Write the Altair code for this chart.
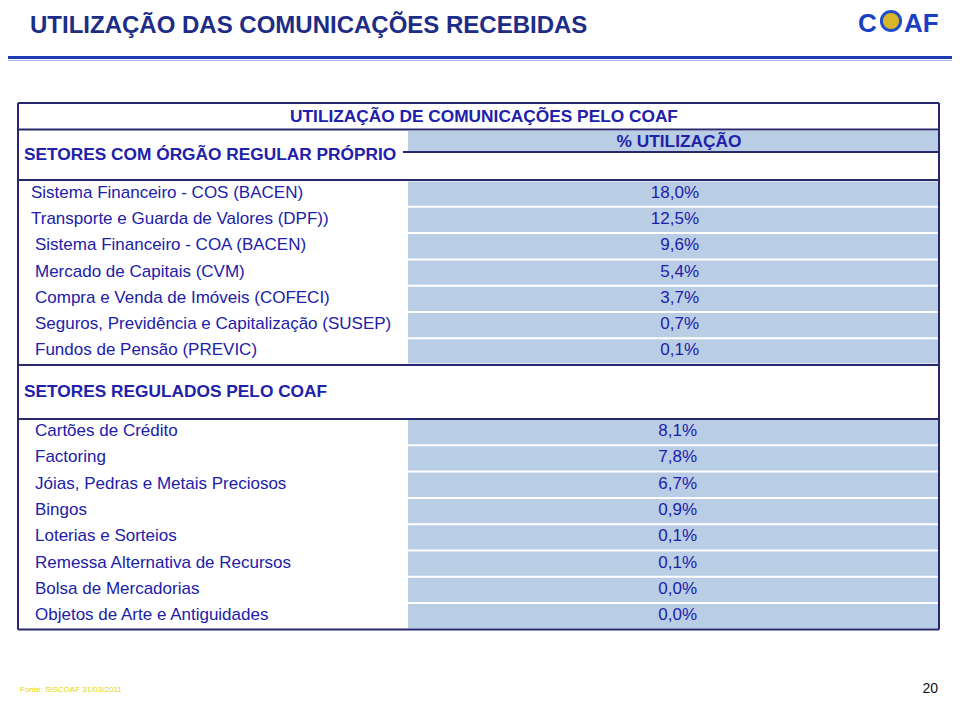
import altair as alt
import pandas as pd

# ---------------- data ----------------
title = "UTILIZAÇÃO DAS COMUNICAÇÕES RECEBIDAS"
table_title = "UTILIZAÇÃO DE COMUNICAÇÕES PELO COAF"
value_header = "% UTILIZAÇÃO"
section1_title = "SETORES COM ÓRGÃO REGULAR PRÓPRIO"
section2_title = "SETORES REGULADOS PELO COAF"

sec1_labels = [
    "Sistema Financeiro - COS (BACEN)",
    "Transporte e Guarda de Valores (DPF))",
    "Sistema Financeiro - COA (BACEN)",
    "Mercado de Capitais (CVM)",
    "Compra e Venda de Imóveis (COFECI)",
    "Seguros, Previdência e Capitalização (SUSEP)",
    "Fundos de Pensão (PREVIC)",
]
sec1_values = [18.0, 12.5, 9.6, 5.4, 3.7, 0.7, 0.1]

sec2_labels = [
    "Cartões de Crédito",
    "Factoring",
    "Jóias, Pedras e Metais Preciosos",
    "Bingos",
    "Loterias e Sorteios",
    "Remessa Alternativa de Recursos",
    "Bolsa de Mercadorias",
    "Objetos de Arte e Antiguidades",
]
sec2_values = [8.1, 7.8, 6.7, 0.9, 0.1, 0.1, 0.0, 0.0]

source_note = "Fonte: SISCOAF 31/03/2011"
page_number = "20"

# ---------------- layout (page pixel coordinates) ----------------
W, H = 944, 686
X0, Y0 = 8, 8
FONT = "Liberation Sans, Arial, sans-serif"
NAVY = "#1d2c86"
BLUE = "#2020aa"
CELL = "#b9cde5"
LINE = "#28286e"
FS = 17

L, R = 18, 939          # table left/right
CX0, CX1 = 408, 938     # value column
PITCH = 26.3
S1_TOP, S2_TOP = 180.5, 419

def fmt(v):
    return f"{v:.1f}".replace(".", ",") + "%"

xs = alt.Scale(domain=[X0, X0 + W])
ys = alt.Scale(domain=[Y0 + H, Y0])

def X(f="x"):
    return alt.X(f"{f}:Q", scale=xs, axis=None)

def Y(f="y"):
    return alt.Y(f"{f}:Q", scale=ys, axis=None)

# cells
cells = []
for i in range(len(sec1_labels)):
    t = S1_TOP + i * PITCH
    cells.append(dict(x=CX0, x2=CX1, y=t + 1, y2=t + PITCH - 1))
for i in range(len(sec2_labels)):
    t = S2_TOP + i * PITCH
    cells.append(dict(x=CX0, x2=CX1, y=t + 1, y2=t + PITCH - 1))
cells.append(dict(x=CX0, x2=CX1, y=131, y2=151))
cells_df = pd.DataFrame(cells)

rect_layer = alt.Chart(cells_df).mark_rect(color=CELL).encode(
    x=X(), x2="x2:Q", y=Y(), y2="y2:Q")

# table lines
lines = [
    dict(x=L, x2=R, y=103, y2=103),
    dict(x=L, x2=R, y=129.5, y2=129.5),
    dict(x=403, x2=R, y=152, y2=152),
    dict(x=L, x2=R, y=180, y2=180),
    dict(x=L, x2=R, y=365, y2=365),
    dict(x=L, x2=R, y=419, y2=419),
    dict(x=L, x2=R, y=629.5, y2=629.5),
    dict(x=L, x2=L, y=103, y2=629.5),
    dict(x=R, x2=R, y=103, y2=629.5),
]
lines_layer = alt.Chart(pd.DataFrame(lines)).mark_rule(
    color=LINE, strokeWidth=2).encode(x=X(), x2="x2:Q", y=Y(), y2="y2:Q")

# title rule
trule = pd.DataFrame([dict(y=57.5, y2=57.5)])
trule_layer = alt.Chart(trule).mark_rule(color="#1e3cb8", strokeWidth=3).encode(
    x=alt.value(0), x2=alt.value(W), y=Y(), y2="y2:Q")
trule2 = pd.DataFrame([dict(y=60.5, y2=60.5)])
trule2_layer = alt.Chart(trule2).mark_rule(color="#a8b8e8", strokeWidth=1).encode(
    x=alt.value(0), x2=alt.value(W), y=Y(), y2="y2:Q")

# row labels and values
indents = [31, 31, 35, 35, 35, 35, 35]
labs, vals = [], []
for i, (lab, v) in enumerate(zip(sec1_labels, sec1_values)):
    yc = S1_TOP + (i + 0.5) * PITCH - 1
    labs.append(dict(x=indents[i], y=yc, t=lab))
    vals.append(dict(x=699, y=yc, t=fmt(v)))
for i, (lab, v) in enumerate(zip(sec2_labels, sec2_values)):
    yc = S2_TOP + (i + 0.5) * PITCH - 1
    labs.append(dict(x=35, y=yc, t=lab))
    vals.append(dict(x=697, y=yc, t=fmt(v)))

lab_layer = alt.Chart(pd.DataFrame(labs)).mark_text(
    align="left", baseline="middle", font=FONT, fontSize=FS, color=BLUE
).encode(x=X(), y=Y(), text="t:N")
val_layer = alt.Chart(pd.DataFrame(vals)).mark_text(
    align="right", baseline="middle", font=FONT, fontSize=FS, color=BLUE
).encode(x=X(), y=Y(), text="t:N")

# headers
heads = pd.DataFrame([
    dict(x=484, y=116.5, t=table_title),
    dict(x=679, y=141.5, t=value_header),
])
heads_layer = alt.Chart(heads).mark_text(
    align="center", baseline="middle", font=FONT, fontSize=17.3, fontWeight="bold", color=BLUE
).encode(x=X(), y=Y(), text="t:N")

secs = pd.DataFrame([
    dict(x=24, y=154.5, t=section1_title),
    dict(x=24, y=391.5, t=section2_title),
])
secs_layer = alt.Chart(secs).mark_text(
    align="left", baseline="middle", font=FONT, fontSize=17.3, fontWeight="bold", color=BLUE
).encode(x=X(), y=Y(), text="t:N")

# page title
title_layer = alt.Chart(pd.DataFrame([dict(x=30, y=26, t=title)])).mark_text(
    align="left", baseline="middle", font=FONT, fontSize=24, fontWeight="bold", color=NAVY
).encode(x=X(), y=Y(), text="t:N")

# logo
logo_txt = pd.DataFrame([dict(x=858, y=23.5, t="C"), dict(x=904, y=23.5, t="AF")])
logo_layer = alt.Chart(logo_txt).mark_text(
    align="left", baseline="middle", font=FONT, fontSize=26, fontWeight="bold", color="#1b3fc4"
).encode(x=X(), y=Y(), text="t:N")
globe = pd.DataFrame([dict(x=891, y=21)])
globe_layer = alt.Chart(globe).mark_point(
    filled=True, size=370, color="#d9b52a", stroke="#2050c8", strokeWidth=3, opacity=1
).encode(x=X(), y=Y())

# footer
foot1 = alt.Chart(pd.DataFrame([dict(x=20, y=690, t=source_note)])).mark_text(
    align="left", baseline="middle", font=FONT, fontSize=8, color="#e6d600"
).encode(x=X(), y=Y(), text="t:N")
foot2 = alt.Chart(pd.DataFrame([dict(x=938, y=688.5, t=page_number)])).mark_text(
    align="right", baseline="middle", font=FONT, fontSize=14, color="#111111"
).encode(x=X(), y=Y(), text="t:N")

chart = alt.layer(
    trule_layer, trule2_layer, rect_layer, lines_layer, lab_layer, val_layer,
    heads_layer, secs_layer, title_layer, globe_layer, logo_layer, foot1, foot2
).properties(
    width=W, height=H, padding=0, autosize=alt.AutoSizeParams(type="none"),
    background="white"
).configure_view(stroke=None)

chart.save("out.html", embed_options={"renderer": "svg", "actions": False})
